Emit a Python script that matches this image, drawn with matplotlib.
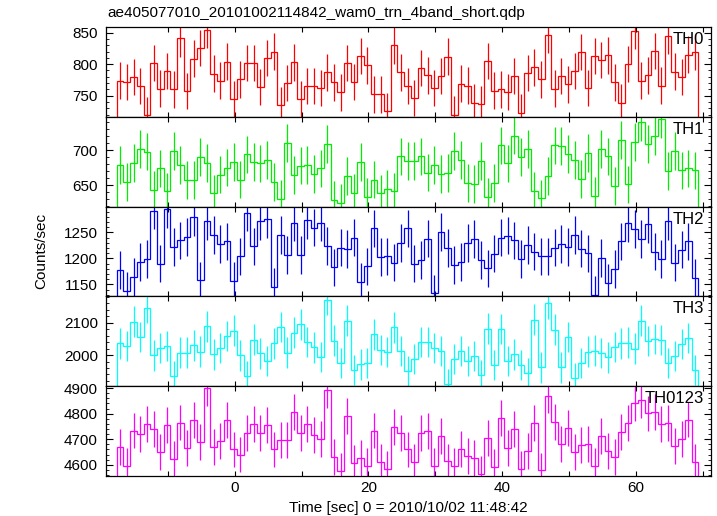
import numpy as np
import matplotlib
matplotlib.use('Agg')
import matplotlib.pyplot as plt
from matplotlib.ticker import MultipleLocator, FuncFormatter

plt.rcParams['font.family'] = ['Liberation Sans', 'DejaVu Sans']

# 1-s bins, first bin centre (sec from 2010/10/02 11:48:42)
t_first = -17.15
bin_width = 1.0

th0 = [774, 772, 780, 765, 719, 802, 761, 789, 760, 841, 757, 809, 826, 855, 785, 774, 804, 744, 776, 802,
       802, 764, 810, 820, 735, 770, 803, 744, 765, 765, 762, 787, 771, 755, 802, 772, 813, 798, 752, 752, 725,
       830, 787, 765, 746, 794, 782, 762, 781, 812, 720, 769, 766, 739, 737, 805, 758, 760, 756, 781, 723,
       786, 795, 776, 846, 761, 781, 768, 789, 819, 762, 813, 807, 814, 771, 739, 800, 853, 774, 782, 821,
       766, 845, 788, 780, 815, 819]
th1 = [679, 654, 682, 702, 698, 643, 674, 641, 699, 679, 657, 657, 690, 682, 638, 665, 675, 683, 658, 694,
       683, 681, 686, 654, 630, 710, 664, 678, 679, 666, 674, 709, 629, 624, 663, 639, 683, 633, 658, 638, 645,
       641, 691, 685, 685, 691, 668, 679, 666, 667, 699, 686, 653, 652, 685, 633, 653, 707, 681, 721, 690,
       702, 642, 631, 663, 707, 706, 695, 686, 659, 696, 634, 702, 691, 649, 715, 651, 712, 740, 709, 720,
       745, 670, 699, 671, 674, 671]
th2 = [1178, 1138, 1164, 1193, 1199, 1292, 1190, 1295, 1222, 1235, 1241, 1279, 1158, 1272, 1245, 1228, 1233,
       1157, 1204, 1288, 1223, 1272, 1276, 1146, 1245, 1207, 1269, 1207, 1273, 1259, 1269, 1224, 1183, 1221,
       1218, 1240, 1155, 1185, 1258, 1203, 1204,
       1192, 1230, 1258, 1190, 1197, 1238, 1133, 1251, 1220, 1187, 1193, 1230, 1237, 1197, 1181, 1209, 1240,
       1244, 1235, 1199, 1226, 1213, 1204, 1204, 1221, 1228, 1222, 1245, 1219, 1210, 1130, 1201, 1153, 1180,
       1233, 1268, 1257, 1237, 1266, 1213, 1199, 1272, 1192, 1217, 1233, 1163]
th3 = [2036, 2028, 2104, 2057, 2145, 1999, 2021, 2028, 1936, 2008, 2008, 2030, 2011, 2089, 2002, 2022, 2060,
       2076, 1999, 1934, 2048, 2005, 1981, 2036, 2088, 2008, 2070, 2095, 2040, 2024, 1994, 2172, 2045, 1975,
       2107, 1953, 1971, 1976, 2064, 2015, 2009,
       2086, 2012, 1950, 1987, 2041, 2041, 2021, 2012, 1909, 1987, 2012, 1982, 1997, 1939, 2082, 1969, 2081,
       1982, 2002, 1970, 1945, 2110, 1962, 2160, 2079, 1962, 2056, 1928, 1976, 2011, 2014, 2006, 1993, 2026,
       2036, 2039, 2020, 2107, 2044, 2050, 2047, 1976, 1997, 2034, 2053, 1954]
th0123 = [4669, 4595, 4734, 4721, 4761, 4739, 4651, 4757, 4622, 4765, 4666, 4775, 4688, 4899, 4669, 4692,
          4774, 4660, 4640, 4725, 4761, 4723, 4757, 4660, 4696, 4696, 4806, 4725, 4760, 4716, 4700, 4892,
          4630, 4577, 4791, 4606, 4626, 4595, 4734, 4612, 4583,
          4748, 4723, 4660, 4612, 4725, 4731, 4597, 4712, 4613, 4597, 4661, 4634, 4626, 4564, 4704, 4591,
          4784, 4665, 4740, 4584, 4654, 4762, 4578, 4871, 4767, 4680, 4743, 4649, 4677, 4680, 4596, 4713,
          4653, 4630, 4727, 4762, 4843, 4854, 4801, 4808, 4761, 4762, 4674, 4701, 4777, 4612]

names = ['TH0', 'TH1', 'TH2', 'TH3', 'TH0123']
series = [th0, th1, th2, th3, th0123]
errors = [29, 27, 36, 47, 70]
colors = ['#ff0000', '#00ee00', '#0000ff', '#00ffff', '#ff00ff']
ylims = [(716, 858.5), (619, 747.6), (1127, 1299.5), (1904, 2182), (4557, 4908)]
major = [50, 50, 50, 100, 100]
minor = [10, 10, 10, 20, 20]

fig = plt.figure(figsize=(7.17, 5.16), dpi=100)
axes = fig.subplots(5, 1, sharex=True, gridspec_kw=dict(hspace=0))
fig.subplots_adjust(left=0.148, right=0.992, top=0.947, bottom=0.078)

for ax, name, vals, err, col, yl, mj, mn in zip(axes, names, series, errors, colors, ylims, major, minor):
    vals = np.array(vals, dtype=float)
    t = t_first + bin_width * np.arange(len(vals))
    edges = np.append(t - bin_width / 2, t[-1] + bin_width / 2)
    ax.stairs(vals, edges, color=col, lw=0.9)
    ax.errorbar(t, vals, yerr=err, fmt='none', ecolor=col, elinewidth=0.9, capsize=0)
    ax.set_ylim(*yl)
    ax.yaxis.set_major_locator(MultipleLocator(mj))
    ax.yaxis.set_minor_locator(MultipleLocator(mn))
    ax.xaxis.set_major_locator(MultipleLocator(10))
    ax.tick_params(which='both', direction='in', top=True, right=True, labelsize=11)
    ax.tick_params(axis='y', which='major', length=5, pad=6)
    ax.tick_params(axis='y', which='minor', length=2.5)
    ax.tick_params(axis='x', which='major', length=3.5, pad=4)
    for s in ax.spines.values():
        s.set_linewidth(0.9)
    ax.text(0.988, 0.945, name, transform=ax.transAxes, ha='right', va='top', fontsize=12)

axes[-1].set_xlim(-19.25, 71.3)
axes[-1].xaxis.set_major_formatter(FuncFormatter(lambda v, p: '%d' % v if round(v) % 20 == 0 else ''))

fig.text(0.15, 0.962, 'ae405077010_20101002114842_wam0_trn_4band_short.qdp', fontsize=11, ha='left', va='bottom')
fig.text(0.057, 0.513, 'Counts/sec', rotation=90, fontsize=11, ha='center', va='center')
fig.text(0.57, 0.0155, 'Time [sec] 0 = 2010/10/02 11:48:42', fontsize=11, ha='center', va='center')

fig.savefig('out.png', dpi=100)
